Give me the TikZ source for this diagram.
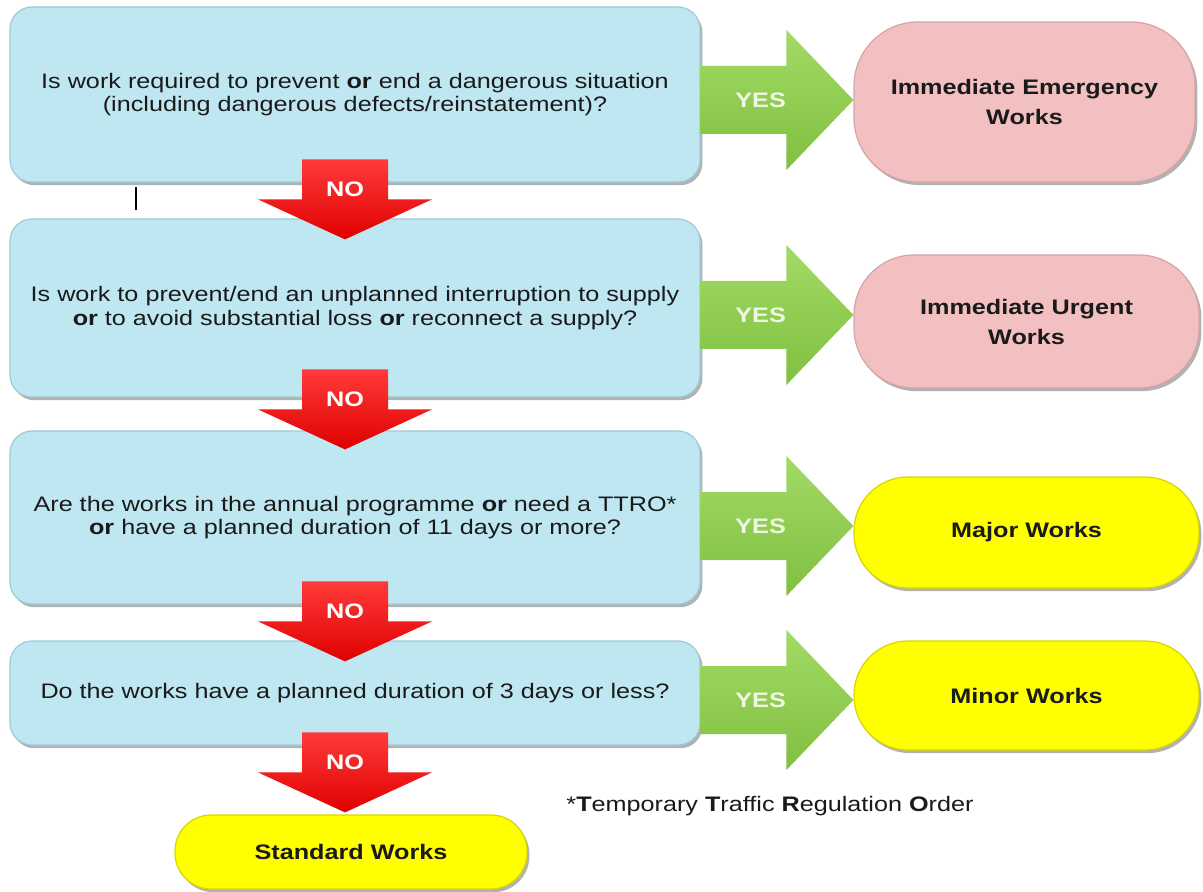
\documentclass[tikz,border=0pt]{standalone}
\usepackage{fontspec}
\setmainfont{Liberation Sans}[FakeStretch=1.2]
\usetikzlibrary{calc,shadows}
\definecolor{qfill}{HTML}{BFE7F2}
\definecolor{qedge}{HTML}{9FCBD9}
\definecolor{pinkfill}{HTML}{F2C0C1}
\definecolor{pinkedge}{HTML}{D9A3A5}
\definecolor{yelfill}{HTML}{FFFF00}
\definecolor{yeledge}{HTML}{D6D600}
\definecolor{grtop}{HTML}{A2DA66}
\definecolor{grbot}{HTML}{80C040}
\definecolor{redtop}{HTML}{FF3A3A}
\definecolor{redbot}{HTML}{E00000}
\definecolor{yestxt}{HTML}{EEF8E2}
\definecolor{txt}{HTML}{1A1A1A}
\newcommand\yesarrow[3]{%
  \coordinate (ya) at (0,#3);
  \path (#1.east |- ya) coordinate (ys) (#2.west |- ya) coordinate (yt);
  \shade[top color=grtop, bottom color=grbot]
    ($(ys)+(0,-34)$) -- ($(yt)+(-67,-34)$) -- ($(yt)+(-67,-70)$) -- (yt)
    -- ($(yt)+(-67,70)$) -- ($(yt)+(-67,34)$) -- ($(ys)+(0,34)$) -- cycle;
  \node[yeslbl] at ($(ys)+(60,0)$) {YES};
}
\newcommand\noarrow[2]{%
  \coordinate (nx) at (345,0);
  \path (#1.north -| nx) coordinate (nb);
  \coordinate (nt) at ($(nb)+(0,#2)$);
  \shade[top color=redtop, bottom color=redbot]
    ($(nt)+(-43,-80)$) -- ($(nt)+(43,-80)$) -- ($(nt)+(43,-40)$) -- ($(nt)+(87,-40)$)
    -- (nt) -- ($(nt)+(-87,-40)$) -- ($(nt)+(-43,-40)$) -- cycle;
  \node[nolbl] at ($(nt)+(0,-50)$) {NO};
}
\begin{document}
\begin{tikzpicture}[x=0.5pt,y=-0.5pt,
  shadowed/.style={drop shadow={shadow xshift=1.2pt,shadow yshift=-1.6pt,opacity=0.3,fill=black}},
  qbox/.style={rectangle, rounded corners=11pt, fill=qfill, draw=qedge, line width=0.6pt, shadowed,
    align=center, text=txt, font=\fontsize{10.5}{11.75}\selectfont, minimum width=345pt, inner sep=0pt},
  pill/.style={rectangle, fill=#1fill, draw=#1edge, line width=0.6pt, shadowed,
    align=center, text=txt, font=\fontsize{10.5}{15}\selectfont\bfseries, inner sep=0pt},
  yeslbl/.style={text=yestxt, font=\fontsize{10.5}{12}\selectfont\bfseries, inner sep=0pt},
  nolbl/.style={text=white, font=\fontsize{10.5}{12}\selectfont\bfseries, inner sep=0pt},
  foot/.style={text=txt, font=\fontsize{10.5}{12}\selectfont, inner sep=0pt}]
\fill[white] (0,0) rectangle (1203,892);
\useasboundingbox (0,0) rectangle (1203,892);

% question boxes
\node[qbox, minimum height=87.5pt] (q1) at (355,94.5)
  {Is work required to prevent \textbf{or} end a dangerous situation\\(including dangerous defects/reinstatement)?};
\node[qbox, minimum height=89pt] (q2) at (355,308)
  {Is work to prevent/end an unplanned interruption to supply\\\textbf{or} to avoid substantial loss \textbf{or} reconnect a supply?};
\node[qbox, minimum height=86.5pt] (q3) at (355,517.5)
  {Are the works in the annual programme \textbf{or} need a TTRO*\\\textbf{or} have a planned duration of 11 days or more?};
\node[qbox, minimum height=52pt] (q4) at (355,693)
  {Do the works have a planned duration of 3 days or less?};

% outcome pills
\node[pill=pink, rounded corners=32pt, minimum width=170.5pt, minimum height=80pt] (r1) at (1024.5,102)
  {Immediate Emergency\\Works};
\node[pill=pink, rounded corners=30pt, minimum width=172.5pt, minimum height=66.5pt] (r2) at (1026.5,321.5)
  {Immediate Urgent\\Works};
\node[pill=yel, rounded corners=27pt, minimum width=172.5pt, minimum height=55.5pt] (y3) at (1026.5,532.5)
  {Major Works};
\node[pill=yel, rounded corners=27pt, minimum width=172.5pt, minimum height=54.5pt] (y4) at (1026.5,695.5)
  {Minor Works};
\node[pill=yel, rounded corners=18pt, minimum width=176pt, minimum height=37pt] (y5) at (351,852)
  {Standard Works};

% YES arrows
\yesarrow{q1}{r1}{100}
\yesarrow{q2}{r2}{315}
\yesarrow{q3}{y3}{526}
\yesarrow{q4}{y4}{700}

% NO arrows
\noarrow{q2}{21}
\noarrow{q3}{19}
\noarrow{q4}{21}
\noarrow{y5}{-2}

% footnote
\node[foot] (fn) at (770,806)
  {*\textbf{T}emporary \textbf{T}raffic \textbf{R}egulation \textbf{O}rder};

% stray cursor mark
\draw[line width=1.1pt, black] (136,187) -- (136,210);
\end{tikzpicture}
\end{document}
